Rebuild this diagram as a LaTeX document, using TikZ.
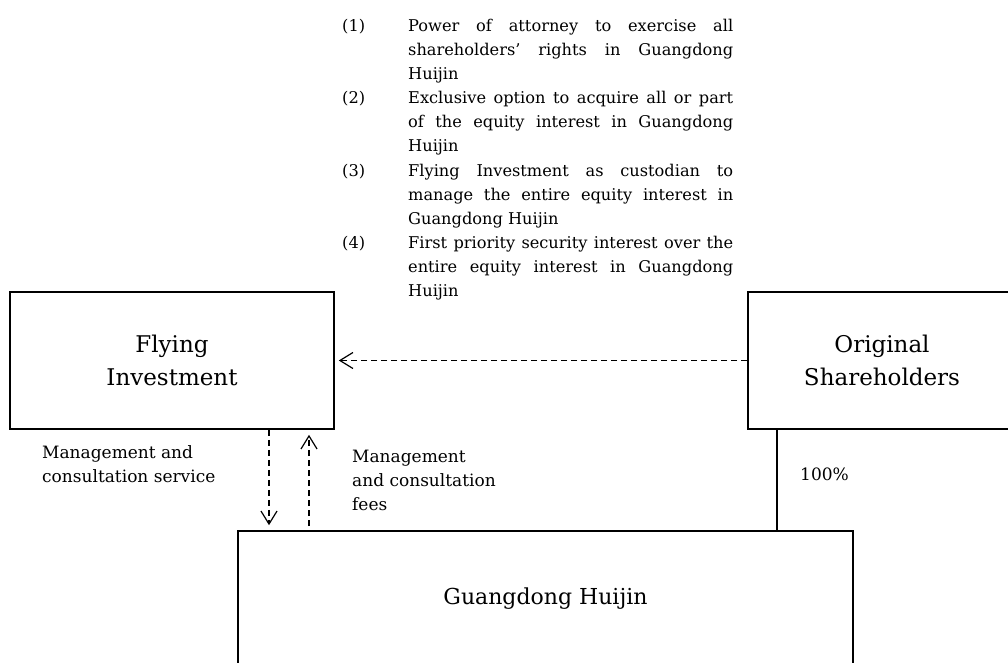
\documentclass[tikz,border=0pt]{standalone}
\usepackage{fontspec}
\setmainfont{DejaVu Serif}
\usetikzlibrary{arrows.meta}
\begin{document}
\begin{tikzpicture}[x=1pt,y=-1pt,
  box/.style={draw, line width=1.6pt, inner sep=0pt, align=center,
    font=\fontsize{23}{33}\selectfont},
  small/.style={font=\fontsize{17}{24}\selectfont, inner sep=0pt, align=left},
  listtext/.style={font=\fontsize{16.2}{24}\selectfont, inner sep=0pt, align=left},
  tipstyle/.style={-{Straight Barb[length=13pt,width=16pt,line width=1.2pt]}},
  dasharrow/.style={line width=1.2pt, dash pattern=on 6pt off 4pt, tipstyle},
  solidline/.style={line width=1.2pt}]
\useasboundingbox (0,0) rectangle (1008,663);

% list of agreements
\node[listtext, anchor=base west] (n1) at (342,32) {(1)};
\node[listtext, anchor=base west] (n2) at (342,104) {(2)};
\node[listtext, anchor=base west] (n3) at (342,176) {(3)};
\node[listtext, anchor=base west] (n4) at (342,248) {(4)};
\node[listtext, anchor=base west] (i1) at (408,80)
  {\makebox[325pt][s]{Power of attorney to exercise all}\\
   \makebox[325pt][s]{shareholders’ rights in Guangdong}\\
   Huijin};
\node[listtext, anchor=base west] (i2) at (408,152)
  {\makebox[325pt][s]{Exclusive option to acquire all or part}\\
   \makebox[325pt][s]{of the equity interest in Guangdong}\\
   Huijin};
\node[listtext, anchor=base west] (i3) at (408,224)
  {\makebox[325pt][s]{Flying Investment as custodian to}\\
   \makebox[325pt][s]{manage the entire equity interest in}\\
   Guangdong Huijin};
\node[listtext, anchor=base west] (i4) at (408,296)
  {\makebox[325pt][s]{First priority security interest over the}\\
   \makebox[325pt][s]{entire equity interest in Guangdong}\\
   Huijin};

% boxes
\node[box, minimum width=324pt, minimum height=137pt] (fly) at (172,360.5) {Flying\\Investment};
\node[box, minimum width=268pt, minimum height=137pt] (orig) at (882,360.5) {Original\\Shareholders};
\node[box, font=\fontsize{22}{33}\selectfont, minimum width=615pt, minimum height=138pt, text height=17pt, text depth=9pt] (guang) at (545.5,600) {Guangdong Huijin};

% connectors
\draw[dasharrow, shorten >=4pt] (orig.west) -- (fly.east);
\draw[dasharrow, shorten >=5pt] ([xshift=97pt]fly.south) -- ([xshift=97pt]fly.south |- guang.north);
\draw[dasharrow, shorten >=5pt, shorten <=4pt] ([xshift=137pt]fly.south |- guang.north) -- ([xshift=137pt]fly.south);
\draw[solidline] ([xshift=-105pt]orig.south) -- ([xshift=-105pt]orig.south |- guang.north);

% labels
\node[small, anchor=base west] (lserv) at (42,482) {Management and\\consultation service};
\node[small, anchor=base west] (lfees) at (352,510) {Management\\and consultation\\fees};
\node[small, anchor=base west] (lpct) at (800,480) {100\%};
\end{tikzpicture}
\end{document}
